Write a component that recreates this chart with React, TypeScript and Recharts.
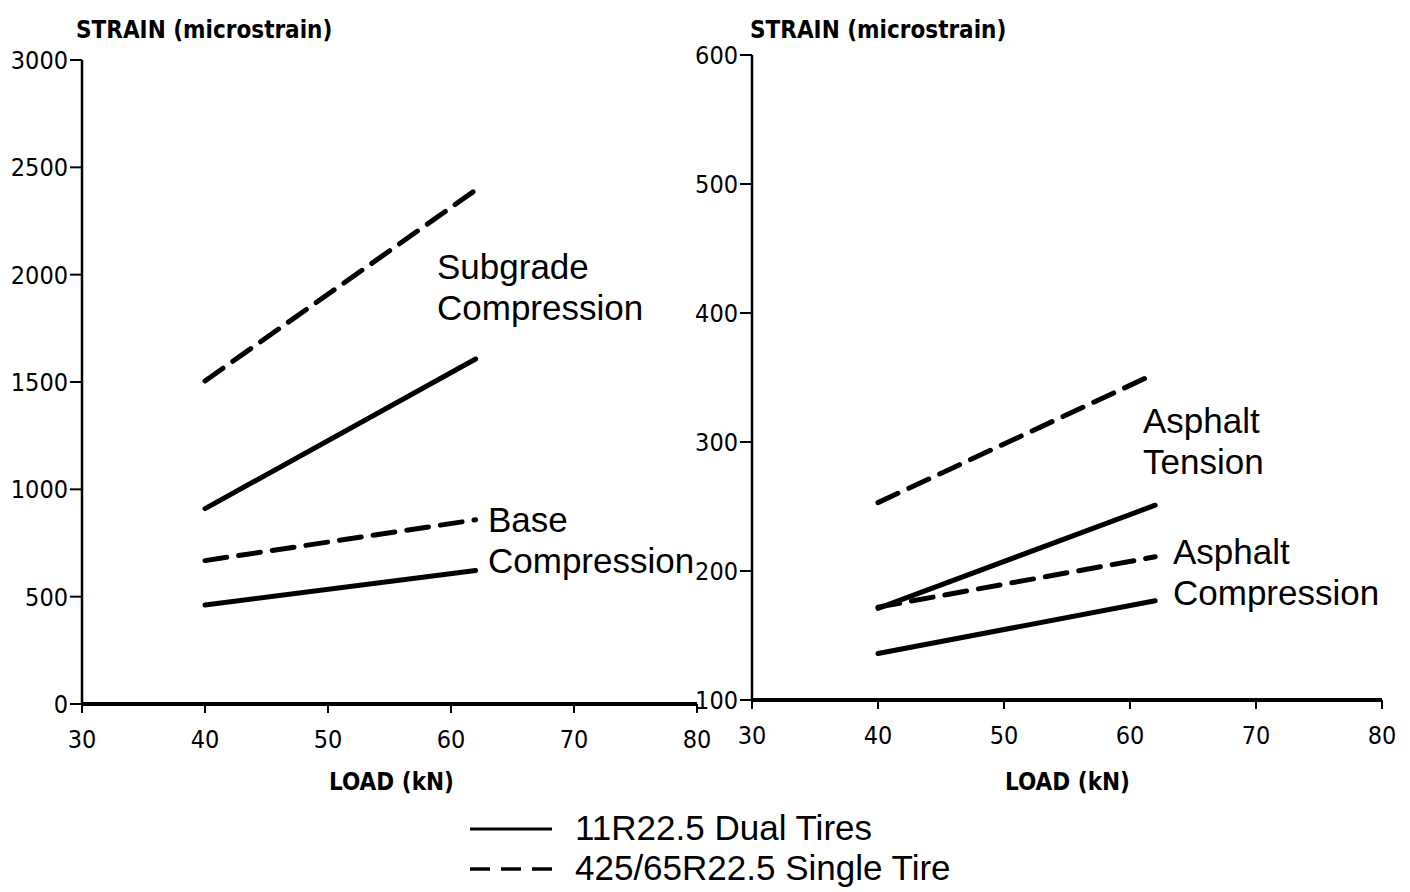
import React from 'react';
import { LineChart, Line, XAxis, YAxis } from 'recharts';

// load points (kN) where each strain line was measured
const loads = [40, 62];

// left panel: subgrade and base compression strains
const subgradeDual = [910, 1607];
const subgradeSingle = [1505, 2394];
const baseDual = [461, 622];
const baseSingle = [668, 858];

// right panel: asphalt tension and compression strains
const tensionDual = [171, 251];
const tensionSingle = [253, 353];
const comprDual = [136, 177];
const comprSingle = [172, 211];

const loadTicks = [30, 40, 50, 60, 70, 80];
const leftStrainTicks = [0, 500, 1000, 1500, 2000, 2500, 3000];
const rightStrainTicks = [100, 200, 300, 400, 500, 600];

const leftData = loads.map((load, i) => ({
    load,
    subgradeDual: subgradeDual[i],
    subgradeSingle: subgradeSingle[i],
    baseDual: baseDual[i],
    baseSingle: baseSingle[i],
}));

const rightData = loads.map((load, i) => ({
    load,
    tensionDual: tensionDual[i],
    tensionSingle: tensionSingle[i],
    comprDual: comprDual[i],
    comprSingle: comprSingle[i],
}));

const NARROW = '"DejaVu Sans Condensed", "DejaVu Sans", sans-serif';
const SANS = '"Liberation Sans", Arial, Helvetica, sans-serif';
const DASH = '22 12';

const tickStyle = { fill: '#000', fontSize: 25, fontFamily: NARROW, fontStretch: 'condensed' };

const lineProps = {
    type: 'linear' as const,
    stroke: '#000',
    strokeWidth: 5,
    dot: false,
    activeDot: false,
    isAnimationActive: false,
    strokeLinecap: 'round' as const,
};

const titleStyle: React.CSSProperties = {
    position: 'absolute', fontFamily: NARROW, fontStretch: 'condensed', fontWeight: 700, fontSize: 24,
    lineHeight: '30px', whiteSpace: 'nowrap', color: '#000',
};

const noteStyle: React.CSSProperties = {
    position: 'absolute', fontFamily: SANS, fontSize: 35,
    lineHeight: '41px', whiteSpace: 'nowrap', color: '#000',
};

const xAxisProps = {
    type: 'number' as const,
    dataKey: 'load',
    domain: [30, 80],
    ticks: loadTicks,
    interval: 0 as const,
    height: 60,
    tickSize: 9,
    tickMargin: 17,
    tick: tickStyle,
    axisLine: { stroke: '#000', strokeWidth: 4 },
    tickLine: { stroke: '#000', strokeWidth: 2 },
};

const yAxisShared = {
    type: 'number' as const,
    interval: 0 as const,
    tickSize: 12,
    tickMargin: 2,
    tick: tickStyle,
    axisLine: { stroke: '#000', strokeWidth: 2.5 },
    tickLine: { stroke: '#000', strokeWidth: 2 },
};

export default function App() {
    return (
        <div style={{ position: 'absolute', left: 0, top: 0, width: 1410, height: 892, background: '#fff', overflow: 'hidden' }}>
            <div style={{ ...titleStyle, left: 76, top: 15 }}>STRAIN (microstrain)</div>
            <div style={{ ...titleStyle, left: 750, top: 15 }}>STRAIN (microstrain)</div>

            <LineChart
                width={720} height={800} data={leftData}
                margin={{ top: 60, right: 23, left: 22, bottom: 36 }}
                style={{ position: 'absolute', left: 0, top: 0 }}
            >
                <XAxis {...xAxisProps} />
                <YAxis {...yAxisShared} width={60} domain={[0, 3000]} ticks={leftStrainTicks} />
                <Line {...lineProps} dataKey="subgradeSingle" strokeDasharray={DASH} />
                <Line {...lineProps} dataKey="subgradeDual" />
                <Line {...lineProps} dataKey="baseSingle" strokeDasharray={DASH} />
                <Line {...lineProps} dataKey="baseDual" />
            </LineChart>

            <LineChart
                width={730} height={800} data={rightData}
                margin={{ top: 55, right: 28, left: 12, bottom: 40 }}
                style={{ position: 'absolute', left: 680, top: 0 }}
            >
                <XAxis {...xAxisProps} />
                <YAxis {...yAxisShared} width={60} domain={[100, 600]} ticks={rightStrainTicks} />
                <Line {...lineProps} dataKey="tensionSingle" strokeDasharray={DASH} />
                <Line {...lineProps} dataKey="tensionDual" />
                <Line {...lineProps} dataKey="comprSingle" strokeDasharray={DASH} />
                <Line {...lineProps} dataKey="comprDual" />
            </LineChart>

            <div style={{ ...titleStyle, left: 329, top: 767 }}>LOAD (kN)</div>
            <div style={{ ...titleStyle, left: 1005, top: 767 }}>LOAD (kN)</div>

            <div style={{ ...noteStyle, left: 437, top: 246 }}>Subgrade<br />Compression</div>
            <div style={{ ...noteStyle, left: 488, top: 499 }}>Base<br />Compression</div>
            <div style={{ ...noteStyle, left: 1143, top: 400 }}>Asphalt<br />Tension</div>
            <div style={{ ...noteStyle, left: 1173, top: 531 }}>Asphalt<br />Compression</div>

            {/* legend samples */}
            <svg width={90} height={70} style={{ position: 'absolute', left: 466, top: 808 }}>
                <line x1={4} y1={21} x2={86} y2={21} stroke="#000" strokeWidth={3} />
                <line x1={4} y1={61} x2={86} y2={61} stroke="#000" strokeWidth={3.5} strokeDasharray="20 11" />
            </svg>
            <div style={{ ...noteStyle, fontSize: 35, left: 575, top: 808, lineHeight: '40px' }}>
                11R22.5 Dual Tires<br />425/65R22.5 Single Tire
            </div>
        </div>
    );
}
